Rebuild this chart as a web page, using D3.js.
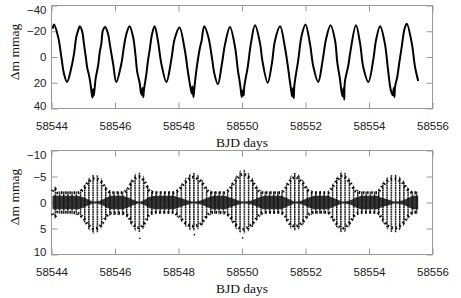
<!DOCTYPE html>
<html>
<head>
<meta charset="utf-8">
<script src="https://cdn.jsdelivr.net/npm/d3@7"></script>
<style>
  body { margin: 0; background: #fff; }
  .tick text { font-family: "Liberation Sans", Arial, sans-serif; font-size: 11.5px; fill: #222; }
  .tick line { stroke: #999; }
  .ttl { font-family: "Liberation Serif", "Times New Roman", serif; font-size: 13.5px; fill: #111; }
</style>
</head>
<body>
<div id="chart"></div>
<script>
// x ticks and y ticks
var xTicks = [58544, 58546, 58548, 58550, 58552, 58554, 58556];
var topTicks = [-40, -20, 0, 20, 40];
var botTicks = [-10, -5, 0, 5, 10];

// light curve, [BJD, delta m in mmag]
var lightCurve = [
  [58544.04, -22], [58544.08, -25.3], [58544.21, -15.5], [58544.31, 0], [58544.39, 12.6],
  [58544.49, 19.4], [58544.62, 8.8], [58544.71, -2.6], [58544.78, -15.5], [58544.85, -21.5],
  [58544.89, -23.8], [58544.97, -19.4], [58545.02, -10.6], [58545.08, 0], [58545.13, 9],
  [58545.17, 12.9], [58545.22, 19.4], [58545.26, 27], [58545.29, 31.5], [58545.31, 25],
  [58545.33, 30], [58545.36, 24], [58545.39, 16.8], [58545.47, 6.4], [58545.52, -3.9],
  [58545.57, -10.4], [58545.62, -20.7], [58545.69, -23.3], [58545.78, -18.1], [58545.85, -7.8],
  [58545.94, 5.2], [58546.04, 19.4], [58546.20, 5.2], [58546.28, -7.8], [58546.36, -18.1],
  [58546.46, -23.8], [58546.57, -15.5], [58546.64, -2.6], [58546.70, 11.6], [58546.78, 20.6],
  [58546.82, 28], [58546.85, 29.7], [58546.87, 24], [58546.89, 31], [58546.91, 25.8],
  [58546.99, 12.9], [58547.04, 2.6], [58547.09, -5.2], [58547.17, -18.1], [58547.25, -23.8],
  [58547.35, -12.9], [58547.46, 5.2], [58547.62, 19.4], [58547.77, 2.6], [58547.88, -14.2],
  [58548.03, -23], [58548.20, -5.2], [58548.29, 10.3], [58548.33, 16.8], [58548.38, 24],
  [58548.42, 28.4], [58548.44, 23], [58548.47, 31], [58548.50, 24], [58548.57, 9],
  [58548.68, -7.8], [58548.73, -12.9], [58548.81, -23.8], [58548.94, -15.5], [58549.05, 0],
  [58549.13, 12.9], [58549.24, 21.2], [58549.36, 6.4], [58549.47, -10.4], [58549.62, -23.3],
  [58549.78, -7.8], [58549.87, 10.3], [58549.92, 18], [58549.96, 25], [58549.99, 31],
  [58550.02, 26], [58550.05, 30], [58550.07, 23.3], [58550.18, 7.8], [58550.28, -10.4],
  [58550.41, -24.6], [58550.57, -10.4], [58550.64, 2.6], [58550.81, 20], [58550.94, 5.2],
  [58551.04, -12.9], [58551.20, -23.8], [58551.35, -7.8], [58551.44, 6.4], [58551.51, 19.4],
  [58551.55, 26], [58551.58, 30.5], [58551.61, 24], [58551.63, 32], [58551.65, 22],
  [58551.77, 2.6], [58551.88, -16.8], [58552.00, -25.3], [58552.14, -10.4], [58552.25, 7.8],
  [58552.40, 19.4], [58552.54, 2.6], [58552.65, -14.2], [58552.79, -24.6], [58552.93, -12.9],
  [58553.00, 3.9], [58553.09, 18], [58553.13, 26], [58553.17, 30.5], [58553.20, 24],
  [58553.22, 33], [58553.24, 19.4], [58553.35, 6.4], [58553.42, -5.2], [58553.59, -24.6],
  [58553.72, -10.4], [58553.82, 7.8], [58553.98, 19.4], [58554.14, 1.3], [58554.22, -12.9],
  [58554.35, -23.8], [58554.50, -10.4], [58554.59, 7.8], [58554.66, 22], [58554.70, 27],
  [58554.75, 29.7], [58554.78, 24], [58554.80, 31], [58554.82, 23.3], [58554.89, 15.5],
  [58554.95, 5.2], [58555.03, -7.8], [58555.12, -22], [58555.19, -25.9], [58555.35, -10.4],
  [58555.45, 7.8], [58555.55, 18.6]
];

// residuals: envelope of the scatter (upper, lower) and half width of the dense core
var resTime = [58544.03, 58544.10, 58544.20, 58544.50, 58544.80, 58545.00, 58545.15, 58545.34, 58545.55,
  58545.75, 58545.90, 58546.20, 58546.40, 58546.55, 58546.76, 58546.95, 58547.10, 58547.30, 58547.80,
  58548.00, 58548.20, 58548.45, 58548.70, 58548.95, 58549.10, 58549.45, 58549.60, 58549.80, 58550.03,
  58550.30, 58550.55, 58550.70, 58551.20, 58551.35, 58551.50, 58551.68, 58551.90, 58552.12, 58552.30,
  58552.70, 58552.85, 58553.00, 58553.16, 58553.40, 58553.60, 58553.80, 58554.25, 58554.40, 58554.60,
  58554.80, 58555.05, 58555.28, 58555.40, 58555.55];
var resUpper = [-2.5, -3.2, -2.2, -2.2, -2.2, -3, -4.5, -5.4, -4.8, -2.8, -2.2, -2.2, -3, -4.8, -5.8, -4.5, -2.5, -2.2, -2.2,
  -2.8, -4.5, -5.7, -4.8, -2.5, -2.2, -2.2, -3, -5, -6.4, -5, -2.5, -2.2, -2.2, -3, -4.8, -5.7, -4.5, -2.5, -2.2,
  -2.2, -3.5, -5, -6, -4.5, -2.5, -2.2, -2.2, -3.5, -5, -5.4, -4.5, -2.5, -2.2, -2.2];
var resLower = [2.5, 3.2, 2.2, 2.2, 2.4, 3.5, 5, 6, 5.2, 3, 2.4, 2.4, 3, 4.8, 5.7, 4.5, 2.5, 2.2, 2.2,
  3, 4.5, 5.4, 4.8, 2.6, 2.2, 2.3, 3, 5, 6, 5, 2.8, 2.2, 2.2, 3, 4.8, 5.4, 4.5, 2.6, 2.2,
  2.2, 3.5, 5, 5.8, 4.5, 2.5, 2.2, 2.2, 3.5, 5.3, 5.8, 4.8, 2.8, 2.2, 2.2];
var resCore = [1.2, 1.4, 1.3, 1.3, 1.3, 1.0, 0.6, 0.2, 0.4, 1.0, 1.3, 1.3, 1.0, 0.6, 0.2, 0.6, 1.1, 1.3, 1.3,
  1.0, 0.6, 0.2, 0.4, 1.0, 1.3, 1.3, 1.0, 0.6, 0.2, 0.4, 1.0, 1.3, 1.3, 1.0, 0.6, 0.2, 0.4, 1.0, 1.3,
  1.3, 0.9, 0.6, 0.2, 0.4, 1.0, 1.3, 1.3, 0.9, 0.6, 0.2, 0.4, 1.0, 1.3, 1.3];
var resOutTime = [58546.78, 58550.02, 58548.50];
var resOutVal = [6.9, 6.8, 6.2];

var W = 461, H = 298;
var svg = d3.select('#chart').append('svg')
    .attr('width', W)
    .attr('height', H);

var defs = svg.append('defs');
var pat = defs.append('pattern')
    .attr('id', 'streaks')
    .attr('patternUnits', 'userSpaceOnUse')
    .attr('width', 4.2)
    .attr('height', 2.4);
pat.append('rect').attr('x', 0).attr('y', 0).attr('width', 1.4).attr('height', 1.9).attr('fill', '#000');

var x = d3.scaleLinear().domain([58544, 58556]).range([51.5, 432.5]);

function drawFrame(y, yTicks, top, bottom, mid) {
    var g = svg.append('g');

    g.append('g')
        .attr('transform', 'translate(0,' + bottom + ')')
        .call(d3.axisBottom(x).tickValues(xTicks).tickSize(-6).tickPadding(13).tickFormat(d3.format('d')))
        .call(function (s) { s.select('.domain').remove(); });
    g.append('g')
        .attr('transform', 'translate(0,' + top + ')')
        .call(d3.axisTop(x).tickValues(xTicks).tickSize(-6).tickFormat(''))
        .call(function (s) { s.select('.domain').remove(); });
    var left = g.append('g')
        .attr('transform', 'translate(51.5,0)')
        .call(d3.axisLeft(y).tickValues(yTicks).tickSize(-6).tickPadding(5))
        .call(function (s) { s.select('.domain').remove(); });
    // nudge end labels inside the frame, like the original
    left.selectAll('.tick text').attr('dy', function (d, i) {
        if (i === 0) return '0.72em';
        if (i === yTicks.length - 1) return '0.1em';
        return '0.32em';
    });
    g.append('g')
        .attr('transform', 'translate(432.5,0)')
        .call(d3.axisRight(y).tickValues(yTicks).tickSize(-6).tickFormat(''))
        .call(function (s) { s.select('.domain').remove(); });

    g.append('rect')
        .attr('x', 51.5).attr('y', top)
        .attr('width', 381).attr('height', bottom - top)
        .attr('fill', 'none').attr('stroke', '#999');

    svg.append('text').attr('class', 'ttl')
        .attr('x', 242).attr('y', bottom + 38)
        .attr('text-anchor', 'middle')
        .text('BJD days');
    svg.append('text').attr('class', 'ttl')
        .attr('transform', 'translate(19,' + mid + ') rotate(-90)')
        .attr('text-anchor', 'middle')
        .text('Δm mmag');
}

// top panel
var yTop = d3.scaleLinear().domain([-40, 40]).range([5.5, 108.5]);
drawFrame(yTop, topTicks, 5.5, 108.5, 52);

svg.append('path')
    .datum(lightCurve)
    .attr('fill', 'none')
    .attr('stroke', '#000')
    .attr('stroke-width', 2)
    .attr('stroke-linejoin', 'round')
    .attr('d', d3.line()
        .x(function (d) { return x(d[0]); })
        .y(function (d) { return yTop(d[1]); })
        .curve(d3.curveCatmullRom.alpha(0.5)));

// bottom panel
var yBot = d3.scaleLinear().domain([-10, 10]).range([150.5, 254.5]);
drawFrame(yBot, botTicks, 150.5, 254.5, 197);

var idx = d3.range(resTime.length);
svg.append('path')
    .datum(idx)
    .attr('fill', 'url(#streaks)')
    .attr('d', d3.area()
        .x(function (i) { return x(resTime[i]); })
        .y0(function (i) { return yBot(resLower[i]); })
        .y1(function (i) { return yBot(resUpper[i]); })
        .curve(d3.curveMonotoneX));

// darker rim where the oscillation turns round
[resUpper, resLower].forEach(function (edge) {
    svg.append('path')
        .datum(idx)
        .attr('fill', 'none')
        .attr('stroke', '#000')
        .attr('stroke-width', 3)
        .attr('stroke-dasharray', '1.4 2.8')
        .attr('d', d3.line()
            .x(function (i) { return x(resTime[i]); })
            .y(function (i) { return yBot(edge[i] * 0.85); })
            .curve(d3.curveMonotoneX));
});

svg.append('path')
    .datum(idx)
    .attr('fill', '#111')
    .attr('fill-opacity', 0.85)
    .attr('d', d3.area()
        .x(function (i) { return x(resTime[i]); })
        .y0(function (i) { return yBot(resCore[i]); })
        .y1(function (i) { return yBot(-resCore[i]); })
        .curve(d3.curveMonotoneX));

svg.selectAll('.outlier')
    .data(resOutTime)
    .enter().append('rect')
    .attr('class', 'outlier')
    .attr('x', function (d) { return x(d) - 0.7; })
    .attr('y', function (d, i) { return yBot(resOutVal[i]) - 0.7; })
    .attr('width', 1.4)
    .attr('height', 1.4)
    .attr('fill', '#000');
</script>
</body>
</html>
